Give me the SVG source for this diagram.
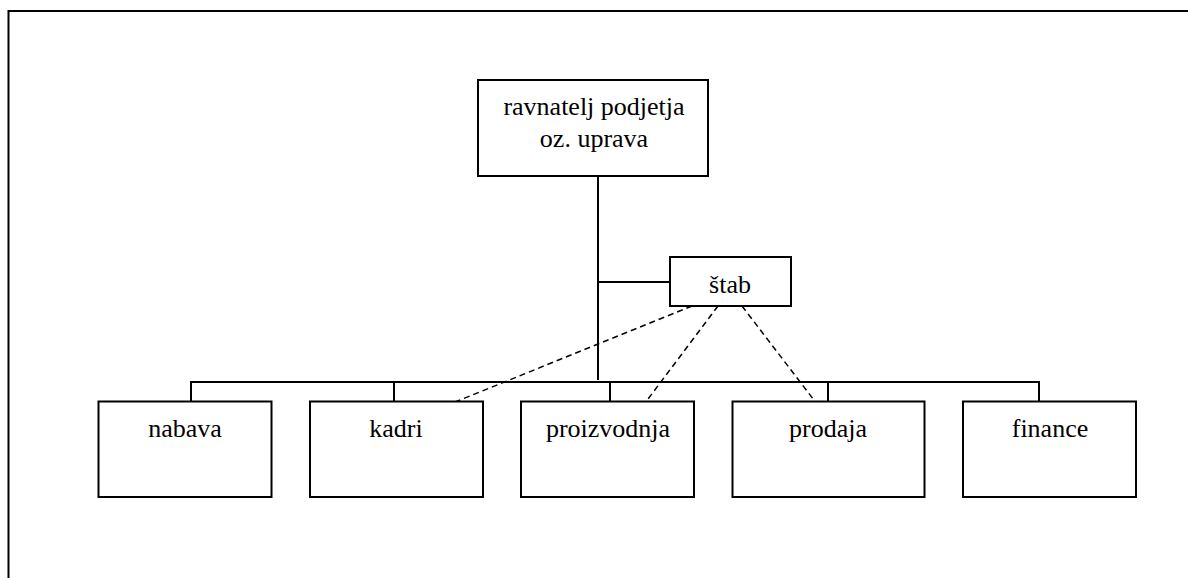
<svg xmlns="http://www.w3.org/2000/svg" width="1188" height="578" viewBox="0 0 1188 578">
<style>
.box{fill:#fff;stroke:#000;stroke-width:2}
.ln{stroke:#000;stroke-width:2;fill:none}
.dash{stroke:#000;stroke-width:1.5;fill:none;stroke-dasharray:6 4}
.t{font-family:'Liberation Serif','Times New Roman',Times,serif;font-size:26px;fill:#000;text-anchor:middle}
</style>
<rect width="1188" height="578" fill="#fff"/>
<g id="frame">
<line class="ln" x1="8" y1="11" x2="1188" y2="11" stroke-width="2.5"/>
<line class="ln" x1="8.5" y1="10" x2="8.5" y2="578"/>
</g>
<g id="connectors">
<line class="ln" x1="598" y1="176" x2="598" y2="380"/>
<line class="ln" x1="598" y1="282" x2="670" y2="282"/>
<line class="ln" x1="191" y1="382" x2="1039" y2="382"/>
<line class="ln" x1="191" y1="381" x2="191" y2="402"/>
<line class="ln" x1="394" y1="382" x2="394" y2="402"/>
<line class="ln" x1="610" y1="382" x2="610" y2="402"/>
<line class="ln" x1="828" y1="382" x2="828" y2="402"/>
<line class="ln" x1="1039" y1="381" x2="1039" y2="402"/>
<line class="dash" x1="692" y1="306" x2="455" y2="402"/>
<line class="dash" x1="718" y1="306" x2="648" y2="399"/>
<line class="dash" x1="742" y1="306" x2="817" y2="404"/>
</g>
<g id="ravnatelj">
<rect class="box" x="478" y="80" width="230" height="96"/>
<text class="t" x="594" y="115" font-family="Liberation Serif, serif">ravnatelj podjetja</text>
<text class="t" x="594" y="147" font-family="Liberation Serif, serif">oz. uprava</text>
</g>
<g id="stab">
<rect class="box" x="670" y="257" width="121" height="49"/>
<text class="t" x="730" y="293">štab</text>
</g>
<g id="nabava">
<rect class="box" x="98.5" y="401.5" width="173" height="95.5"/>
<text class="t" x="185" y="437">nabava</text>
</g>
<g id="kadri">
<rect class="box" x="310" y="401.5" width="173" height="95.5"/>
<text class="t" x="396" y="437">kadri</text>
</g>
<g id="proizvodnja">
<rect class="box" x="521" y="401.5" width="173" height="95.5"/>
<text class="t" x="608" y="437">proizvodnja</text>
</g>
<g id="prodaja">
<rect class="box" x="732.5" y="401.5" width="192" height="95.5"/>
<text class="t" x="828" y="437">prodaja</text>
</g>
<g id="finance">
<rect class="box" x="963" y="401.5" width="173" height="95.5"/>
<text class="t" x="1050" y="437">finance</text>
</g>
</svg>
